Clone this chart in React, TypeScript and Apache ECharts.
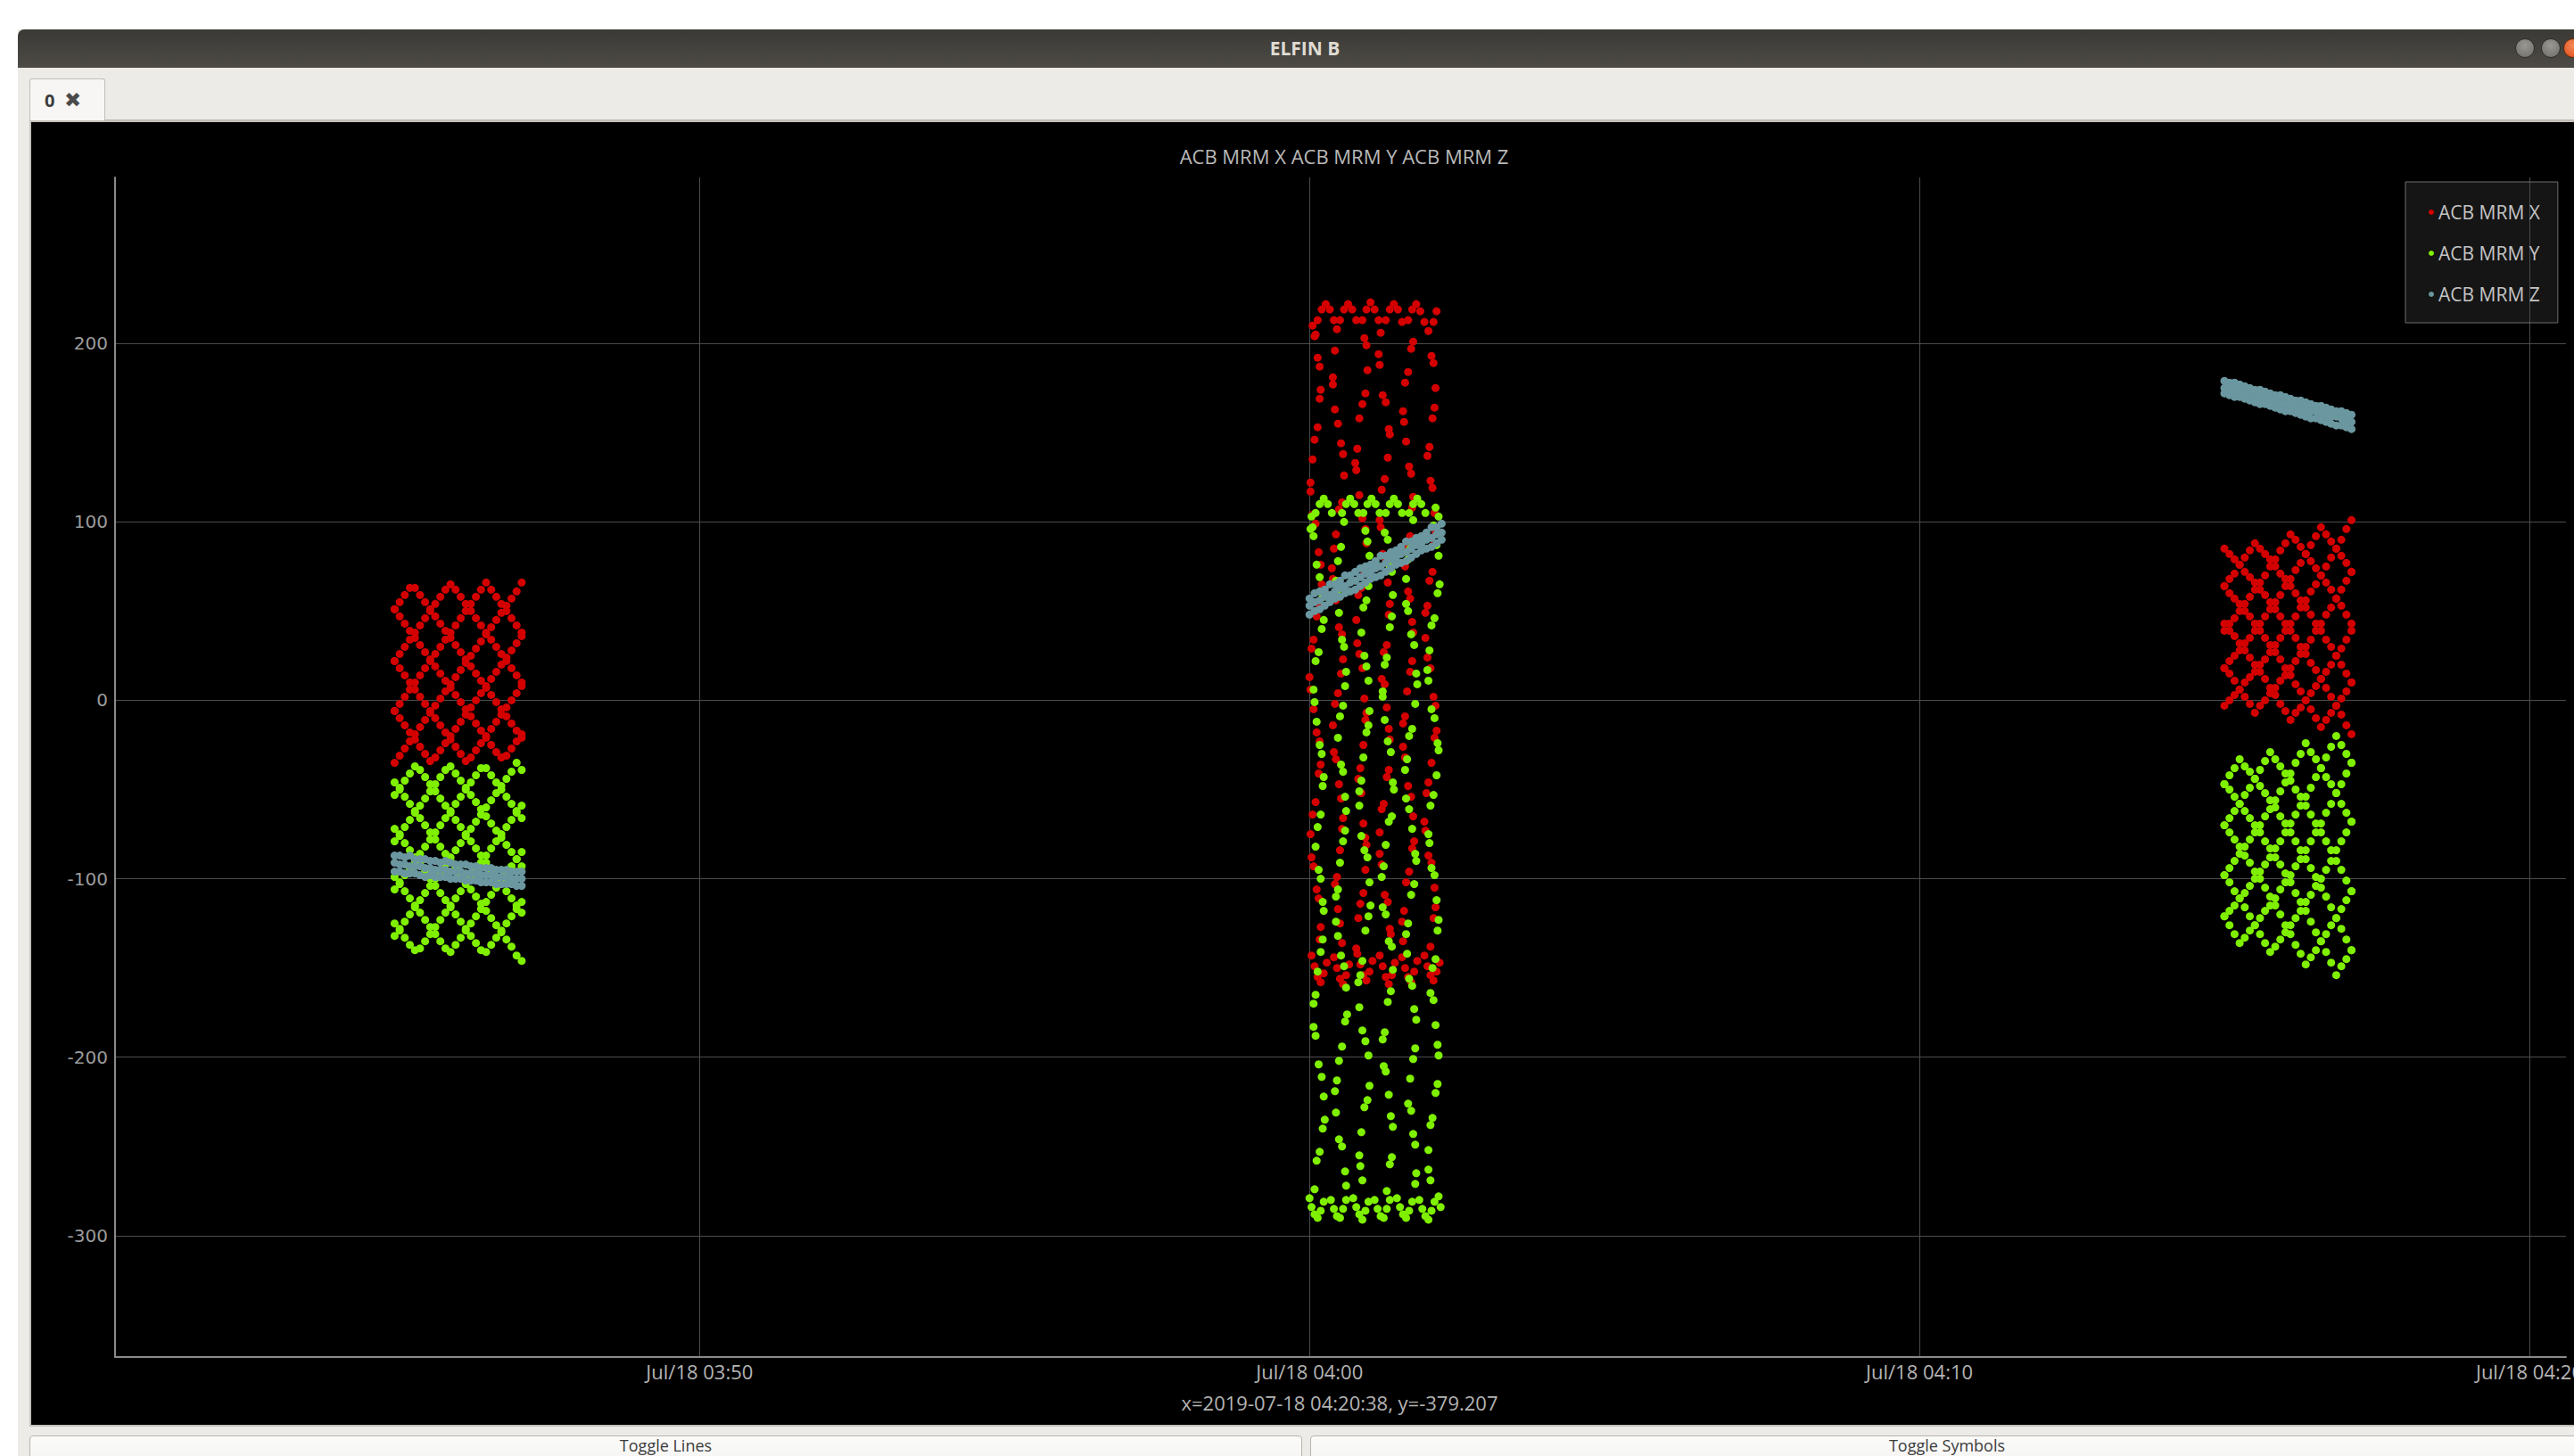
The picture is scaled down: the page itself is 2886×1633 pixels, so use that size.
import React, { useEffect, useRef } from 'react';
import * as echarts from 'echarts';

// ---------- chart data ----------
const SERIES_NAMES = ['ACB MRM X', 'ACB MRM Y', 'ACB MRM Z'];
const SERIES_COLORS = ['#d40000', '#7ff000', '#6b97a0'];
const CHART_TITLE = 'ACB MRM X ACB MRM Y ACB MRM Z';
const STATUS_TEXT = 'x=2019-07-18 04:20:38, y=-379.207';

// x values: seconds after 2019-07-18 03:40:00
const X_MIN = 25;
const X_MAX = 2436;
const Y_MIN = -368;
const Y_MAX = 293;
const X_TICKS = [600, 1200, 1800, 2400];
const X_TICK_LABELS = ['Jul/18 03:50', 'Jul/18 04:00', 'Jul/18 04:10', 'Jul/18 04:20'];
const Y_TICKS = [-300, -200, -100, 0, 100, 200];

// start of each data pass (seconds after 03:40:00): 03:45:00, 04:00:00, 04:15:00
const PASS_START = [300, 1200, 2100];
// sample offsets (s) within a pass
const OFFSETS = [0, 5, 10, 15, 20, 25, 30, 35, 40, 45, 50, 55, 60, 65, 70, 75, 80, 85, 90, 95, 100, 105, 110, 115, 120, 125];
const OFFSETS_P2 = [0, 5, 10, 15, 20, 25, 30, 35, 40, 45, 50, 55, 60, 65, 70, 75, 80, 85, 90, 95, 100, 105, 110, 115, 120, 125, 130];

// pass 1 (03:45) – X crosshatch tracks
const P1_X = [
  [-35, -31, -27, -23, -19, -15, -11, -7, -3, 1, 5, 9, 13, 17, 21, 25, 29, 33, 37, 41, 45, 49, 53, 57, 61, 66],
  [-6, -2, 2, 6, 10, 14, 18, 22, 26, 30, 34, 38, 42, 46, 50, 54, 58, 62, 66, 62, 58, 54, 50, 46, 42, 38],
  [22, 26, 30, 34, 38, 42, 46, 50, 54, 58, 62, 65, 62, 58, 54, 50, 46, 42, 38, 34, 30, 26, 22, 18, 14, 10],
  [51, 55, 59, 63, 63, 59, 55, 51, 47, 43, 39, 35, 31, 27, 23, 19, 15, 11, 7, 3, -1, -5, -9, -13, -17, -21],
  [51, 47, 43, 39, 35, 31, 27, 23, 19, 15, 11, 7, 3, -1, -5, -9, -13, -17, -21, -25, -29, -32, -31, -27, -23, -19],
  [22, 18, 14, 10, 6, 2, -2, -6, -10, -14, -18, -22, -26, -30, -34, -32, -28, -24, -20, -16, -12, -8, -4, 0, 4, 8],
  [-6, -10, -14, -18, -22, -26, -30, -34, -32, -28, -24, -20, -16, -12, -8, -4, 0, 4, 8, 12, 16, 20, 24, 28, 32, 36],
];
// pass 1 – Y crosshatch tracks
const P1_Y = [
  [-132, -128, -124, -120, -116, -112, -108, -104, -100, -96, -92, -88, -84, -80, -76, -72, -68, -64, -60, -56, -52, -48, -44, -40, -35, -39],
  [-106, -102, -98, -94, -90, -86, -82, -78, -74, -70, -66, -62, -58, -54, -50, -46, -42, -38, -38, -42, -46, -50, -54, -58, -62, -66],
  [-79, -75, -71, -67, -63, -59, -55, -51, -47, -43, -39, -37, -41, -45, -49, -53, -57, -61, -65, -69, -73, -77, -81, -85, -89, -93],
  [-53, -49, -45, -41, -37, -39, -43, -47, -51, -55, -59, -63, -67, -71, -75, -79, -83, -87, -91, -95, -99, -103, -107, -111, -115, -119],
  [-46, -50, -54, -58, -62, -66, -70, -74, -78, -82, -86, -90, -94, -98, -102, -106, -110, -114, -118, -122, -126, -130, -134, -138, -143, -146],
  [-72, -76, -80, -84, -88, -92, -96, -100, -104, -108, -112, -116, -120, -124, -128, -132, -136, -140, -141, -137, -133, -129, -125, -121, -117, -113],
  [-99, -103, -107, -111, -115, -119, -123, -127, -131, -135, -139, -141, -137, -133, -129, -125, -121, -117, -113, -109, -105, -101, -97, -93, -89, -85],
  [-125, -129, -133, -137, -140, -139, -135, -131, -127, -123, -119, -115, -111, -107, -103, -99, -95, -91, -87, -83, -79, -75, -71, -67, -63, -59],
];
// pass 1 – Z band
const P1_Z = [
  [-87, -87, -88, -87, -89, -89, -89, -90, -90, -91, -90, -91, -92, -92, -92, -93, -93, -94, -94, -94, -95, -95, -95, -96, -96, -96],
  [-91, -92, -92, -93, -93, -93, -94, -94, -95, -95, -95, -96, -96, -96, -97, -97, -97, -98, -98, -98, -99, -99, -99, -100, -100, -100],
  [-96, -96, -97, -97, -97, -98, -99, -98, -99, -99, -99, -100, -100, -100, -101, -101, -101, -102, -102, -102, -103, -103, -103, -103, -104, -104],
];

// pass 2 (04:00) – X cloud, [offset s, value]
const P2_X = [
  // top arches
  [8, 213], [12, 219], [16, 222], [20, 219], [24, 213], [30, 213], [34, 219], [38, 222], [42, 219], [46, 213],
  [52, 213], [56, 219], [60, 223], [64, 219], [68, 213], [75, 213], [79, 219], [83, 222], [87, 219], [91, 212],
  [97, 213], [101, 219], [105, 222], [109, 218], [113, 212], [3, 210], [5, 204], [122, 212], [125, 218],
  // columns
  [6, 205], [27, 208], [54, 203], [70, 206], [102, 201], [117, 207],
  [8, 192], [25, 196], [56, 199], [68, 194], [100, 197], [120, 193],
  [10, 187], [23, 181], [57, 185], [69, 188], [97, 184], [122, 189],
  [11, 174], [23, 177], [55, 172], [72, 171], [94, 178], [124, 175],
  [10, 169], [25, 163], [52, 166], [75, 167], [92, 162], [123, 164],
  [8, 153], [28, 155], [49, 158], [78, 152], [93, 156], [121, 158],
  [5, 146], [31, 144], [47, 141], [79, 149], [95, 145], [118, 142],
  [3, 135], [33, 138], [45, 133], [77, 136], [98, 131], [116, 137],
  [1, 122], [34, 126], [46, 129], [74, 124], [100, 127], [119, 123],
  [1, 117], [32, 111], [49, 115], [71, 118], [102, 114], [121, 119],
  [3, 104], [29, 107], [52, 102], [69, 101], [101, 108], [123, 105],
  [6, 99], [26, 93], [55, 96], [70, 97], [99, 92], [124, 94],
  [9, 83], [24, 85], [56, 88], [72, 82], [96, 86], [123, 88],
  [11, 76], [22, 74], [54, 71], [75, 79], [94, 75], [121, 72],
  [12, 65], [23, 68], [51, 63], [77, 66], [97, 61], [118, 67],
  [10, 52], [26, 56], [48, 59], [79, 54], [99, 57], [116, 53],
  [7, 47], [29, 41], [46, 45], [78, 48], [101, 44], [114, 49],
  [4, 34], [32, 37], [47, 32], [76, 31], [102, 38], [114, 35],
  [2, 29], [33, 23], [49, 26], [73, 27], [101, 22], [116, 24],
  [0, 13], [31, 15], [52, 18], [71, 12], [99, 16], [119, 18],
  [1, 6], [28, 4], [54, 1], [74, 9], [96, 5], [122, 2],
  [4, -5], [25, -2], [56, -7], [76, -4], [94, -9], [124, -3],
  [7, -18], [23, -14], [55, -11], [78, -16], [92, -13], [125, -17],
  [10, -23], [24, -29], [53, -25], [79, -22], [92, -26], [123, -21],
  [11, -36], [26, -33], [50, -38], [78, -39], [94, -32], [120, -35],
  [9, -41], [29, -47], [48, -44], [76, -43], [97, -48], [117, -46],
  [6, -57], [31, -55], [51, -52], [73, -58], [100, -54], [115, -52],
  [3, -64], [33, -66], [53, -69], [71, -61], [102, -65], [113, -68],
  [1, -75], [32, -72], [55, -77], [69, -74], [103, -79], [114, -73],
  [2, -88], [30, -84], [56, -81], [69, -86], [101, -83], [117, -87],
  [4, -93], [27, -99], [55, -95], [71, -92], [98, -96], [120, -91],
  [7, -106], [25, -103], [53, -108], [74, -109], [95, -102], [123, -105],
  [9, -111], [28, -117], [50, -114], [77, -113], [93, -118], [124, -116],
  [11, -127], [30, -125], [48, -122], [79, -128], [91, -124], [122, -122],
  [10, -134], [32, -136], [46, -139], [80, -131], [92, -135], [119, -138],
  // bottom zigzag
  [2, -143], [5, -149], [8, -155], [11, -158], [14, -153], [17, -147],
  [24, -144], [27, -150], [30, -156], [33, -159], [36, -154], [39, -148],
  [47, -142], [50, -148], [53, -154], [56, -157], [59, -152], [62, -146],
  [69, -143], [72, -149], [75, -155], [78, -159], [81, -154], [84, -147],
  [91, -144], [94, -150], [97, -155], [100, -158], [103, -152], [106, -146],
  [113, -143], [116, -149], [119, -154], [122, -157], [125, -152], [128, -147],
];
// pass 2 – Y cloud, [offset s, value]
const P2_Y = [
  // top arches
  [6, 105], [10, 110], [14, 113], [18, 110], [22, 105], [32, 105], [36, 110], [40, 113], [44, 110], [48, 105],
  [53, 105], [57, 110], [61, 113], [65, 110], [69, 105], [75, 105], [79, 110], [83, 113], [87, 110], [91, 105],
  [98, 105], [102, 110], [106, 113], [110, 110], [114, 105], [2, 103], [1, 96], [124, 108], [127, 103],
  // columns
  [3, 97], [34, 100], [55, 95], [74, 94], [102, 101], [122, 98],
  [4, 92], [31, 86], [57, 89], [77, 90], [99, 85], [125, 87],
  [7, 76], [28, 78], [59, 81], [79, 75], [97, 79], [127, 81],
  [10, 69], [26, 67], [58, 64], [81, 72], [95, 68], [128, 65],
  [13, 58], [27, 61], [56, 56], [82, 59], [95, 54], [126, 60],
  [14, 45], [29, 49], [53, 52], [81, 47], [97, 50], [123, 46],
  [12, 40], [32, 34], [51, 38], [79, 41], [100, 37], [120, 42],
  [9, 27], [34, 30], [54, 25], [76, 24], [103, 31], [118, 28],
  [6, 22], [36, 16], [56, 19], [74, 20], [105, 15], [116, 17],
  [4, 6], [35, 8], [58, 11], [72, 5], [106, 9], [117, 11],
  [5, -1], [33, -3], [59, -6], [72, 2], [104, -2], [120, -5],
  [7, -12], [30, -9], [58, -14], [74, -11], [101, -16], [123, -10],
  [10, -25], [28, -21], [56, -18], [77, -23], [98, -20], [126, -24],
  [12, -30], [31, -36], [53, -32], [80, -29], [96, -33], [127, -28],
  [14, -43], [33, -40], [51, -45], [82, -46], [94, -39], [125, -42],
  [13, -48], [35, -54], [49, -51], [83, -50], [95, -55], [122, -53],
  [11, -64], [36, -62], [49, -59], [81, -65], [98, -61], [119, -59],
  [8, -71], [35, -73], [51, -76], [78, -68], [101, -72], [117, -75],
  [6, -82], [33, -79], [54, -84], [75, -81], [104, -86], [118, -80],
  [9, -95], [30, -91], [57, -88], [73, -93], [105, -90], [120, -94],
  [11, -100], [28, -106], [59, -102], [71, -99], [103, -103], [123, -98],
  [13, -113], [26, -110], [60, -115], [72, -116], [100, -109], [125, -112],
  [14, -118], [26, -124], [58, -121], [75, -120], [97, -125], [127, -123],
  [13, -134], [28, -132], [55, -129], [78, -135], [95, -131], [126, -129],
  [11, -141], [31, -143], [52, -146], [81, -138], [96, -142], [124, -145],
  [8, -152], [34, -149], [50, -154], [82, -151], [98, -156], [121, -150],
  [6, -165], [36, -161], [48, -158], [80, -163], [101, -160], [119, -164],
  [4, -170], [37, -176], [49, -172], [77, -169], [103, -173], [122, -168],
  [4, -183], [35, -180], [52, -185], [74, -186], [105, -179], [124, -182],
  [6, -188], [32, -194], [55, -191], [72, -190], [104, -195], [126, -193],
  [9, -204], [29, -202], [58, -199], [73, -205], [102, -201], [127, -199],
  [12, -211], [27, -213], [59, -216], [75, -208], [99, -212], [126, -215],
  [14, -222], [25, -219], [57, -224], [78, -221], [97, -226], [124, -220],
  [15, -235], [26, -231], [54, -228], [80, -233], [100, -230], [121, -234],
  [13, -240], [29, -246], [51, -242], [82, -239], [102, -243], [119, -238],
  [10, -253], [32, -250], [49, -255], [81, -256], [104, -249], [117, -252],
  [7, -258], [35, -264], [50, -261], [79, -260], [105, -265], [117, -263],
  [5, -274], [36, -272], [52, -269], [76, -275], [104, -271], [119, -269],
  // bottom zigzag
  [0, -279], [2, -284], [5, -288], [8, -290], [11, -286], [14, -281],
  [21, -280], [24, -285], [27, -289], [30, -290], [33, -285], [36, -280],
  [43, -279], [46, -284], [49, -288], [52, -291], [55, -286], [58, -281],
  [64, -280], [67, -285], [70, -289], [73, -290], [76, -285], [79, -280],
  [86, -279], [89, -284], [92, -288], [95, -290], [98, -286], [101, -281],
  [108, -280], [111, -285], [114, -289], [117, -291], [120, -286], [123, -281],
  [127, -278], [129, -284],
];
// pass 2 – Z band (on OFFSETS_P2)
const P2_Z = [
  [57, 60, 61, 62, 65, 65, 67, 70, 70, 72, 74, 75, 76, 78, 81, 81, 83, 84, 86, 89, 89, 91, 92, 94, 97, 97, 99],
  [53, 55, 56, 58, 59, 61, 63, 64, 66, 67, 69, 71, 72, 74, 75, 77, 79, 80, 82, 83, 85, 87, 88, 90, 91, 93, 94],
  [48, 50, 51, 53, 55, 57, 58, 60, 61, 62, 64, 66, 68, 69, 70, 72, 74, 76, 77, 78, 80, 82, 84, 85, 86, 88, 90],
];

// pass 3 (04:15) – X crosshatch tracks
const P3_X = [
  [-3, 0, 3, 6, 10, 13, 16, 20, 23, 27, 31, 35, 39, 43, 47, 52, 56, 61, 65, 70, 75, 80, 85, 90, 96, 101],
  [18, 22, 25, 28, 32, 35, 39, 43, 47, 51, 55, 59, 64, 68, 73, 77, 82, 87, 92, 97, 93, 89, 85, 81, 77, 72],
  [39, 43, 46, 50, 54, 58, 62, 66, 70, 75, 79, 84, 88, 93, 90, 86, 82, 78, 74, 70, 66, 62, 57, 53, 48, 43],
  [64, 68, 71, 76, 80, 84, 88, 85, 82, 79, 75, 71, 68, 64, 60, 56, 52, 48, 43, 39, 34, 30, 25, 20, 15, 10],
  [85, 82, 79, 76, 72, 69, 66, 62, 59, 55, 51, 47, 43, 39, 35, 30, 26, 21, 17, 12, 7, 2, -3, -8, -14, -19],
  [64, 60, 57, 54, 50, 47, 43, 39, 35, 31, 27, 23, 18, 14, 9, 5, 0, -5, -10, -15, -11, -7, -3, 1, 5, 10],
  [43, 39, 36, 32, 28, 24, 20, 16, 12, 7, 3, -2, -6, -11, -7, -4, 0, 4, 8, 12, 16, 20, 25, 29, 34, 39],
  [18, 15, 11, 6, 2, -2, -7, -3, 0, 4, 7, 11, 14, 18, 22, 26, 30, 34, 39, 43, 48, 52, 57, 62, 67, 72],
];
// pass 3 – Y crosshatch tracks
const P3_Y = [
  [-121, -118, -115, -111, -108, -104, -100, -96, -92, -88, -83, -79, -74, -69, -64, -59, -54, -49, -43, -38, -32, -26, -20, -25, -30, -35],
  [-98, -94, -90, -86, -82, -78, -74, -70, -65, -61, -56, -51, -46, -41, -35, -30, -24, -29, -33, -38, -43, -47, -52, -58, -63, -68],
  [-70, -66, -62, -58, -53, -49, -44, -39, -34, -29, -33, -37, -41, -45, -50, -54, -59, -64, -69, -74, -79, -84, -90, -95, -101, -107],
  [-47, -42, -38, -33, -37, -40, -44, -48, -52, -56, -60, -65, -69, -74, -79, -84, -89, -94, -99, -105, -110, -116, -122, -128, -134, -140],
  [-47, -50, -54, -58, -62, -66, -70, -74, -79, -83, -88, -92, -97, -102, -108, -113, -118, -124, -130, -135, -141, -147, -154, -149, -145, -140],
  [-70, -74, -78, -82, -87, -91, -96, -100, -105, -110, -115, -120, -126, -131, -137, -142, -148, -144, -140, -135, -131, -126, -122, -117, -112, -107],
  [-98, -102, -107, -111, -116, -121, -126, -131, -136, -141, -138, -134, -130, -126, -122, -118, -113, -109, -104, -100, -95, -90, -84, -79, -74, -68],
  [-121, -126, -131, -136, -133, -129, -126, -122, -118, -115, -111, -106, -102, -98, -93, -89, -84, -79, -74, -69, -63, -58, -52, -47, -41, -35],
];
// pass 3 – Z band
const P3_Z = [
  [179, 178, 178, 177, 176, 175, 174, 174, 173, 172, 171, 171, 170, 169, 168, 168, 167, 166, 165, 165, 164, 163, 162, 162, 161, 160],
  [175, 175, 174, 173, 172, 172, 171, 170, 169, 169, 168, 167, 166, 165, 165, 164, 163, 162, 162, 161, 160, 159, 159, 158, 157, 156],
  [172, 171, 170, 170, 169, 168, 167, 166, 166, 165, 164, 163, 162, 162, 161, 160, 159, 158, 158, 157, 156, 155, 154, 154, 153, 152],
];

// ---------- helpers to build series data ----------
const fromTracks = (start: number, offs: number[], tracks: number[][]) =>
  tracks.flatMap((tr) => tr.map((v, i) => [start + offs[i], v]));
const fromPairs = (start: number, pairs: number[][]) => pairs.map(([o, v]) => [start + o, v]);

const DATA_X = [
  ...fromTracks(PASS_START[0], OFFSETS, P1_X),
  ...fromPairs(PASS_START[1], P2_X),
  ...fromTracks(PASS_START[2], OFFSETS, P3_X),
];
const DATA_Y = [
  ...fromTracks(PASS_START[0], OFFSETS, P1_Y),
  ...fromPairs(PASS_START[1], P2_Y),
  ...fromTracks(PASS_START[2], OFFSETS, P3_Y),
];
const DATA_Z = [
  ...fromTracks(PASS_START[0], OFFSETS, P1_Z),
  ...fromTracks(PASS_START[1], OFFSETS_P2, P2_Z),
  ...fromTracks(PASS_START[2], OFFSETS, P3_Z),
];
const SERIES_DATA = [DATA_X, DATA_Y, DATA_Z];

const UI_FONT = '"Open Sans", "Noto Sans", sans-serif';

export default function App() {
  const ref = useRef<HTMLDivElement>(null);

  useEffect(() => {
    if (!ref.current) return;
    const chart = echarts.init(ref.current, null, { renderer: 'svg' });
    const option = {
      animation: false,
      backgroundColor: 'transparent',
      title: {
        text: CHART_TITLE,
        left: 1502,
        top: 157,
        textAlign: 'center',
        textStyle: { color: '#b8b8b8', fontSize: 22, fontWeight: 'normal', fontFamily: UI_FONT, lineHeight: 26 },
      },
      legend: {
        orient: 'vertical',
        left: 2697,
        top: 204,
        backgroundColor: 'rgba(70,70,70,0.3)',
        borderColor: '#6e6e6e',
        borderWidth: 1,
        padding: [21, 20, 19, 26],
        itemGap: 20,
        itemWidth: 6,
        itemHeight: 6,
        icon: 'circle',
        selectedMode: false,
        textStyle: { color: '#c4c4c4', fontSize: 21, fontFamily: UI_FONT, lineHeight: 26 },
        data: SERIES_NAMES,
      },
      grid: { left: 129, top: 199, right: 9, bottom: 111, containLabel: false, outerBoundsMode: 'none' },
      xAxis: {
        type: 'value',
        min: X_MIN,
        max: X_MAX,
        axisLine: { show: true, onZero: false, lineStyle: { color: '#8a8a8a', width: 2 } },
        axisTick: { show: false, customValues: X_TICKS },
        axisLabel: {
          customValues: X_TICKS,
          formatter: (v: number) => X_TICK_LABELS[X_TICKS.indexOf(Math.round(v))] ?? '',
          color: '#b4b4b4',
          fontSize: 22,
          fontFamily: UI_FONT,
          margin: 5,
          hideOverlap: false,
        },
        splitLine: { show: true, lineStyle: { color: '#4c4c4c', width: 1 } },
      },
      yAxis: {
        type: 'value',
        min: Y_MIN,
        max: Y_MAX,
        axisLine: { show: true, onZero: false, lineStyle: { color: '#8a8a8a', width: 2 } },
        axisTick: { show: false, customValues: Y_TICKS },
        axisLabel: {
          customValues: Y_TICKS,
          color: '#9c9c9c',
          fontSize: 20,
          fontFamily: '"DejaVu Sans", sans-serif',
          margin: 8,
        },
        splitLine: { show: true, lineStyle: { color: '#4c4c4c', width: 1 } },
      },
      graphic: [
        {
          type: 'text',
          x: 1502,
          y: 1573,
          style: {
            text: STATUS_TEXT,
            fill: '#b4b4b4',
            fontSize: 22,
            fontFamily: UI_FONT,
            align: 'center',
            verticalAlign: 'middle',
          },
        },
      ],
      series: SERIES_NAMES.map((name, i) => ({
        name,
        type: 'scatter',
        data: SERIES_DATA[i],
        symbol: 'circle',
        symbolSize: 9,
        itemStyle: { color: SERIES_COLORS[i], opacity: 1 },
        emphasis: { disabled: true },
        z: 2 + i,
      })),
    };
    chart.setOption(option as any);
    return () => chart.dispose();
  }, []);

  const abs = (s: React.CSSProperties): React.CSSProperties => ({ position: 'absolute', boxSizing: 'border-box', ...s });

  return (
    <div style={{ position: 'fixed', left: 0, top: 0, width: 2886, height: 1633, overflow: 'hidden', background: '#ffffff' }}>
      {/* window body */}
      <div style={abs({ left: 20, top: 33, width: 2900, height: 1620, background: '#edebe8' })} />
      {/* title bar */}
      <div style={abs({ left: 20, top: 33, width: 2900, height: 43, background: 'linear-gradient(to bottom, #3a3935, #4e4b46)', borderTopLeftRadius: 7, borderTopRightRadius: 7 })} />
      <div style={abs({ left: 0, top: 33, width: 2926, height: 43, lineHeight: '43px', textAlign: 'center', color: '#dfdbd2', fontFamily: UI_FONT, fontWeight: 700, fontSize: 21 })}>ELFIN B</div>
      <div style={abs({ left: 2820, top: 43, width: 22, height: 22, borderRadius: 11, background: 'radial-gradient(circle at 50% 35%, #9a9893, #6e6c67)', border: '1px solid #2f2e2b' })} />
      <div style={abs({ left: 2849, top: 43, width: 22, height: 22, borderRadius: 11, background: 'radial-gradient(circle at 50% 35%, #9a9893, #6e6c67)', border: '1px solid #2f2e2b' })} />
      <div style={abs({ left: 2874, top: 43, width: 22, height: 22, borderRadius: 11, background: 'radial-gradient(circle at 50% 35%, #f58a5a, #df4a16)', border: '1px solid #5a2a10' })} />
      {/* tab bar */}
      <div style={abs({ left: 33, top: 134, width: 2900, height: 2, background: '#bdb9b2' })} />
      <div style={abs({ left: 33, top: 88, width: 85, height: 48, background: '#f7f6f5', border: '1px solid #c2beb7', borderBottom: 'none', borderRadius: '3px 3px 0 0' })} />
      <div style={abs({ left: 50, top: 99, height: 28, lineHeight: '28px', fontSize: 20, fontFamily: UI_FONT, fontWeight: 700, color: '#3c3c3c' })}>0</div>
      <div style={abs({ left: 72, top: 98, height: 28, lineHeight: '28px', fontSize: 23, fontFamily: '"DejaVu Sans", sans-serif', fontWeight: 700, color: '#4a4a4a' })}>✖</div>
      {/* plot frame */}
      <div style={abs({ left: 33, top: 135, width: 2900, height: 1465, background: '#000000', border: '2px solid #c4c0b9' })} />
      {/* bottom buttons */}
      <div style={abs({ left: 33, top: 1610, width: 1427, height: 60, background: 'linear-gradient(to bottom, #fbfbfa, #efeeec)', border: '1px solid #b9b5ae', borderRadius: 4 })} />
      <div style={abs({ left: 33, top: 1612, width: 1427, height: 18, lineHeight: '18px', textAlign: 'center', fontSize: 18, fontFamily: UI_FONT, color: '#3c3c3c' })}>Toggle Lines</div>
      <div style={abs({ left: 1469, top: 1610, width: 1440, height: 60, background: 'linear-gradient(to bottom, #fbfbfa, #efeeec)', border: '1px solid #b9b5ae', borderRadius: 4 })} />
      <div style={abs({ left: 1469, top: 1612, width: 1428, height: 18, lineHeight: '18px', textAlign: 'center', fontSize: 18, fontFamily: UI_FONT, color: '#3c3c3c' })}>Toggle Symbols</div>
      {/* chart */}
      <div ref={ref} style={abs({ left: 0, top: 0, width: 2886, height: 1633 })} />
    </div>
  );
}
